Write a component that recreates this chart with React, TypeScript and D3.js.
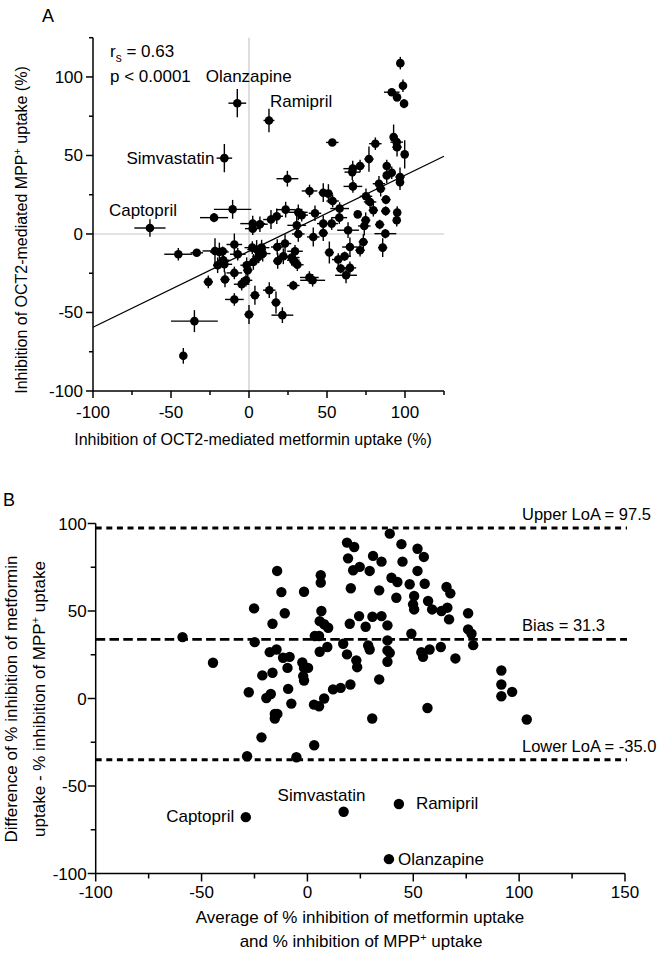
import React from 'react';
import * as d3 from 'd3';

// Panel A: [metformin inhibition %, MPP+ inhibition %, SD metformin, SD MPP+]
const panelAPoints: [number, number, number, number][] = [
  [-63.5, 3.8, 10, 5.5], [-45.3, -12.9, 9, 4], [-42.1, -77.6, 1, 5], [-35, -55.5, 15, 7],
  [-33.5, -12, 4, 2], [-26.1, -30.5, 3, 4], [-22.4, 10.4, 9, 3], [-21.8, -10.8, 8, 8],
  [-19, -11.5, 6, 6], [-20.1, -19.9, 3, 5], [-15.8, -19.3, 5, 5], [-15.4, -29, 3, 5],
  [-15.8, 48.3, 5, 9], [-10.5, 15.7, 12, 6], [-9.4, -6.7, 5, 7], [-7.2, -12.9, 5, 4],
  [-9.4, -24.8, 5, 4], [-9.4, -41.7, 6, 4], [-7.5, 83.3, 5.7, 9], [-4.7, -32, 5, 4],
  [-1.9, -29.5, 4, 4], [-1.5, -19.9, 4, 5], [-0.8, -23.1, 3, 5], [0, -51.3, 3, 6],
  [2.4, 3.4, 5, 4], [2.4, 6.6, 8, 5], [2.1, -8.7, 5, 4], [3.8, -39, 3, 6],
  [4.9, -9.9, 6, 6], [6, -14.6, 4, 4], [7, 6.2, 5, 5], [8.1, -8.7, 5, 5],
  [8.8, -12.5, 5, 5], [12.8, 72.3, 3.5, 7.5], [13, -35.8, 4, 5], [14.1, 9.2, 5, 6],
  [17.3, -43.6, 3, 7], [17.8, 11.3, 4, 5], [18.1, -8.3, 4, 5], [18.4, -17.2, 3, 5],
  [21.4, -51.7, 7, 5], [22, -14.2, 4, 5], [23.1, -6.1, 4, 6], [23.5, 15.5, 6, 5],
  [24.6, 35.2, 7, 5], [27.4, -15, 5, 5], [28.4, -16.7, 4, 4], [28.4, -32.8, 4, 3],
  [29.5, -11, 5, 4], [30.6, 5.5, 6, 6], [31.6, 13.8, 6, 5], [31.6, 0, 4, 5],
  [31, -19.6, 4, 4], [33.8, 12, 4, 4], [38.8, 27.4, 5, 4], [38.7, -27.7, 6, 4],
  [40.8, -29.5, 8, 4], [42.3, 13.2, 4, 5], [41.2, -1.9, 4, 6], [47.6, 26.3, 3, 6],
  [47.6, 6.6, 4, 5], [47.6, 0.6, 3, 5], [50.9, 25.7, 3, 6], [51.5, -11.8, 3, 7],
  [53.6, 21, 4, 4], [53, 6.6, 4, 4], [53.4, 58.3, 4, 2], [57.9, 10.4, 5, 4],
  [58.1, 16.2, 6, 4], [57.2, -16.3, 4, 4], [58.8, -22, 3, 3], [61.3, -14.2, 4, 3],
  [62.2, -26.3, 7, 5], [63.5, 2.4, 7, 5], [64.7, -8.3, 5, 6], [64.7, -21.6, 4, 4],
  [66.5, 41.6, 6, 5], [66.2, 39.4, 5, 5], [66.6, 30.3, 6, 4], [69.7, 12.5, 2, 2],
  [71.2, 43.3, 3, 4], [71.2, -10.4, 3, 4], [73.3, -5.1, 3, 5], [73.9, 5.1, 4, 6],
  [74.8, 8.7, 3, 5], [75, 24, 4, 5], [76.9, 47.7, 3, 8], [77.6, 20.4, 4, 4],
  [79.7, 15.1, 3, 4], [81, 57.5, 4, 4], [83.3, 32, 4, 5], [83.8, 6, 3, 3],
  [84.4, 28.9, 3, 5], [85.7, -8.7, 3, 6], [87.4, 0.2, 7, 3], [87.6, 14.6, 3, 3],
  [87.8, 21.9, 3, 3], [88.3, 43.3, 2, 4], [88.3, 37.3, 2, 5], [91.5, 39, 2, 4],
  [91.5, 90.3, 5, 2], [92.7, 61.7, 2, 8], [94.7, 58.5, 4, 4], [94.9, 55.3, 3, 6],
  [94.9, 87, 2, 2], [95, 13.6, 2, 4], [94.7, 8.7, 2, 4], [96.8, 36.3, 3, 6],
  [96.8, 33, 2, 5], [97, 108.8, 2, 4], [98.7, 94.4, 2, 4], [99.4, 83, 2, 3],
  [99.8, 50.7, 2, 9], [-16.5, -16.7, 4, 4], [-16.9, -11, 3, 3], [2.8, -17.8, 4, 5],
];

// Regression line (from picture): y = slope * x + intercept
const regression = { slope: 0.484, intercept: -11.0 };
const statsText = { rs: '0.63', p: 'p < 0.0001' };

const labelsA = [
  { name: 'Olanzapine', x: -7.5, y: 83.3, dx: -31.6, dy: -21, anchor: 'start' },
  { name: 'Ramipril', x: 12.8, y: 72.3, dx: 1, dy: -13.3, anchor: 'start' },
  { name: 'Simvastatin', x: -15.8, y: 48.3, dx: -10, dy: 6, anchor: 'end' },
  { name: 'Captopril', x: -63.5, y: 3.8, dx: -41, dy: -11.7, anchor: 'start' },
];

// Panel B: [average, difference]
const panelBPoints: [number, number][] = [
  [-59, 35.1], [-44.6, 20.4], [-29.1, -67.8], [-28.5, -33], [-27.7, 3.6], [-25.2, 51.5],
  [-24.9, 32.2], [-21.7, -22.2], [-21.3, 13.2], [-19.4, 0.3], [-17.3, 2.6], [-17.8, 26.5],
  [-16.5, 14.7], [-16.5, 42.7], [-14.6, 28], [-14.3, 72.9], [-12.3, 60.8], [-10.7, 48.7],
  [-11.5, 23.3], [-8.4, 23.8], [-9.4, 17.5], [-9.1, 5.5], [-7.6, -2.9], [-15.4, -8.8],
  [-14.2, -8.8], [-15.4, -11.4], [-5.2, -33.6], [-1.6, 61], [-2.4, 20.6], [-1.6, 17.5],
  [0.3, 17.5], [-2, 12.8], [-1.6, 10.3], [3.1, -3.5], [5.5, -4.4], [3.2, -26.7],
  [7.9, 0], [6.3, 70.4], [6.3, 66.2], [6.6, 50], [5.8, 44.2], [7.9, 42.4],
  [9.8, 40.4], [3.5, 35.7], [5.5, 35.7], [5.8, 26.7], [9.4, 29.4], [12.1, 5.2],
  [15.7, 6.1], [20.3, 8], [16.9, 31.3], [18.7, 25.2], [23.1, 21.8], [23.5, 17.9],
  [20, 42.7], [24.4, 47.1], [20.5, 63], [21.6, 73.3], [24.7, 75.2], [19.2, 80.1],
  [18.7, 89.1], [22.1, 86.6], [17.1, -64.7], [27.5, 41], [29.4, 72.9], [31, 81.5],
  [35, 78.2], [30.7, 46.7], [35, 47.1], [33.9, 61.8], [37.8, 41.8], [28.7, 30.3],
  [29.4, 28], [33.9, 10.9], [30.6, -11.4], [37.8, 33.2], [37.8, 27.5], [38.9, 26.1],
  [37.8, 21], [38.9, 94.2], [39.7, 69], [42.5, 66.6], [44.4, 88.2], [44.9, 78.2],
  [42, 57.6], [38.5, -91.8], [43.2, -60.3], [48.3, 65.3], [49.1, 37], [50.4, 58.6],
  [49.9, 53.8], [50.4, 50.9], [52, 85.6], [55, 80.9], [52, 72.9], [55.4, 65.6],
  [57, 55.7], [58.9, 50.9], [53.8, 26.5], [54.6, 23.8], [57.7, 28], [56.7, -5.4],
  [63, 29.4], [63.3, 50], [66.1, 51.9], [66.9, 45.2], [65.7, 63.7], [67.5, 60.1],
  [69.9, 22.9], [75.9, 48.7], [75.9, 39.5], [77.5, 37], [78.3, 30.5], [91.6, 16],
  [91.6, 8], [96.7, 3.8], [91.6, 1.3], [103.6, -12],
];

const limitLines = [
  { label: 'Upper LoA = 97.5', value: 97.5, dash: '6,4.6', width: 3 },
  { label: 'Bias = 31.3', value: 33.8, dash: '9.5,4.3', width: 2.6 },
  { label: 'Lower LoA = -35.0', value: -35.0, dash: '6,4.6', width: 3 },
];

const labelsB = [
  { name: 'Captopril', x: -29.1, y: -67.8, dx: -11.6, dy: 5, anchor: 'end' },
  { name: 'Simvastatin', x: 17.1, y: -64.7, dx: -66, dy: -11, anchor: 'start' },
  { name: 'Ramipril', x: 43.2, y: -60.3, dx: 17, dy: 5, anchor: 'start' },
  { name: 'Olanzapine', x: 38.5, y: -91.8, dx: 9, dy: 5.6, anchor: 'start' },
];

const ticksA = d3.range(-100, 126, 25);
const ticksBX = d3.range(-100, 151, 25);
const ticksBY = d3.range(-100, 101, 25);

const FONT = "'Liberation Sans', Arial, sans-serif";

export default function App() {
  const xA = d3.scaleLinear().domain([-100, 125]).range([93, 444]);
  const yA = d3.scaleLinear().domain([-100, 125]).range([391, 37.7]);
  const xB = d3.scaleLinear().domain([-100, 150]).range([95.7, 625]);
  const yB = d3.scaleLinear().domain([-100, 100]).range([873.5, 523.5]);

  const regLine = d3.line<number>()
    .x((d) => xA(d))
    .y((d) => yA(regression.slope * d + regression.intercept));

  const ax0 = xA.range()[0];
  const ay0 = yA.range()[0];
  const bx0 = xB.range()[0];
  const by0 = yB.range()[0];

  return (
    <svg width={659} height={954} style={{ position: 'absolute', left: 0, top: 0, background: '#fff' }} fontFamily={FONT}>
      <rect x={0} y={0} width={659} height={954} fill="#fff" />
      {/* ============ PANEL A ============ */}
      <text x={42} y={22} fontSize={18}>A</text>
      {/* reference lines */}
      <line x1={xA(0)} x2={xA(0)} y1={yA(125)} y2={ay0} stroke="#c8c8c8" strokeWidth={1.2} />
      <line x1={ax0} x2={xA(125)} y1={yA(0)} y2={yA(0)} stroke="#c8c8c8" strokeWidth={1.2} />
      {/* regression */}
      <path d={regLine([-100, 125]) || ''} fill="none" stroke="#000" strokeWidth={1.3} />
      {/* error bars */}
      {panelAPoints.map((p, i) => (
        <g key={'eb' + i} stroke="#000" strokeWidth={1.4}>
          <line x1={xA(p[0] - p[2])} x2={xA(p[0] + p[2])} y1={yA(p[1])} y2={yA(p[1])} />
          <line x1={xA(p[0])} x2={xA(p[0])} y1={yA(p[1] - p[3])} y2={yA(p[1] + p[3])} />
        </g>
      ))}
      {panelAPoints.map((p, i) => (
        <circle key={'pa' + i} cx={xA(p[0])} cy={yA(p[1])} r={4.3} fill="#000" />
      ))}
      {/* axes */}
      <line x1={ax0} x2={ax0} y1={yA(125)} y2={ay0} stroke="#000" strokeWidth={1.5} />
      <line x1={ax0} x2={xA(125)} y1={ay0} y2={ay0} stroke="#000" strokeWidth={1.5} />
      {ticksA.map((t) => {
        const major = t % 50 === 0;
        return (
          <g key={'ya' + t}>
            <line x1={ax0 - (major ? 7 : 4)} x2={ax0} y1={yA(t)} y2={yA(t)} stroke="#000" strokeWidth={1.5} />
            {major && (
              <text x={ax0 - 10} y={yA(t) + 6} fontSize={17} textAnchor="end">{t}</text>
            )}
          </g>
        );
      })}
      {ticksA.map((t) => {
        const major = t % 50 === 0;
        return (
          <g key={'xa' + t}>
            <line x1={xA(t)} x2={xA(t)} y1={ay0} y2={ay0 + (major ? 7 : 4)} stroke="#000" strokeWidth={1.5} />
            {major && (
              <text x={xA(t)} y={418} fontSize={17} textAnchor="middle">{t}</text>
            )}
          </g>
        );
      })}
      <text x={253} y={445} fontSize={16} textAnchor="middle">Inhibition of OCT2-mediated metformin uptake (%)</text>
      <text transform="translate(27,230) rotate(-90)" fontSize={16} textAnchor="middle">
        Inhibition of OCT2-mediated MPP<tspan dy={-6} fontSize={11}>+</tspan><tspan dy={6}> uptake (%)</tspan>
      </text>
      {/* stats */}
      <text x={110} y={57} fontSize={17}>
        r<tspan dy={5} fontSize={12}>s</tspan><tspan dy={-5}> = {statsText.rs}</tspan>
      </text>
      <text x={110} y={82} fontSize={17}>{statsText.p}</text>
      {labelsA.map((l) => (
        <text key={'la' + l.name} x={xA(l.x) + l.dx} y={yA(l.y) + l.dy} fontSize={17} textAnchor={l.anchor as any}>{l.name}</text>
      ))}

      {/* ============ PANEL B ============ */}
      <text x={3} y={506} fontSize={18}>B</text>
      {limitLines.map((l) => (
        <g key={l.label}>
          <line x1={bx0} x2={xB(150) + 2} y1={yB(l.value)} y2={yB(l.value)} stroke="#000" strokeWidth={l.width} strokeDasharray={l.dash} />
          <text x={522} y={yB(l.value) - 8} fontSize={16.5}>{l.label}</text>
        </g>
      ))}
      {panelBPoints.map((p, i) => (
        <circle key={'pb' + i} cx={xB(p[0])} cy={yB(p[1])} r={5.2} fill="#000" />
      ))}
      <line x1={bx0} x2={bx0} y1={yB(100)} y2={by0} stroke="#000" strokeWidth={1.5} />
      <line x1={bx0} x2={xB(150)} y1={by0} y2={by0} stroke="#000" strokeWidth={1.5} />
      {ticksBY.map((t) => {
        const major = t % 50 === 0;
        return (
          <g key={'yb' + t}>
            <line x1={bx0 - (major ? 8 : 5)} x2={bx0} y1={yB(t)} y2={yB(t)} stroke="#000" strokeWidth={1.5} />
            {major && (
              <text x={bx0 - 9} y={yB(t) + 6} fontSize={17} textAnchor="end">{t}</text>
            )}
          </g>
        );
      })}
      {ticksBX.map((t) => {
        const major = t % 50 === 0;
        return (
          <g key={'xb' + t}>
            <line x1={xB(t)} x2={xB(t)} y1={by0} y2={by0 + (major ? 8 : 5)} stroke="#000" strokeWidth={1.5} />
            {major && (
              <text x={xB(t)} y={898} fontSize={17} textAnchor="middle">{t}</text>
            )}
          </g>
        );
      })}
      <text x={360} y={923} fontSize={17} textAnchor="middle">Average of % inhibition of metformin uptake</text>
      <text x={361} y={947} fontSize={17} textAnchor="middle">
        and % inhibition of MPP<tspan dy={-6} fontSize={11}>+</tspan><tspan dy={6}> uptake</tspan>
      </text>
      <text transform="translate(17,699) rotate(-90)" fontSize={17} textAnchor="middle">Difference of % inhibition of metformin</text>
      <text transform="translate(45,699) rotate(-90)" fontSize={17} textAnchor="middle">
        uptake - % inhibition of MPP<tspan dy={-6} fontSize={11}>+</tspan><tspan dy={6}> uptake</tspan>
      </text>
      {labelsB.map((l) => (
        <text key={'lb' + l.name} x={xB(l.x) + l.dx} y={yB(l.y) + l.dy} fontSize={17} textAnchor={l.anchor as any}>{l.name}</text>
      ))}
    </svg>
  );
}
